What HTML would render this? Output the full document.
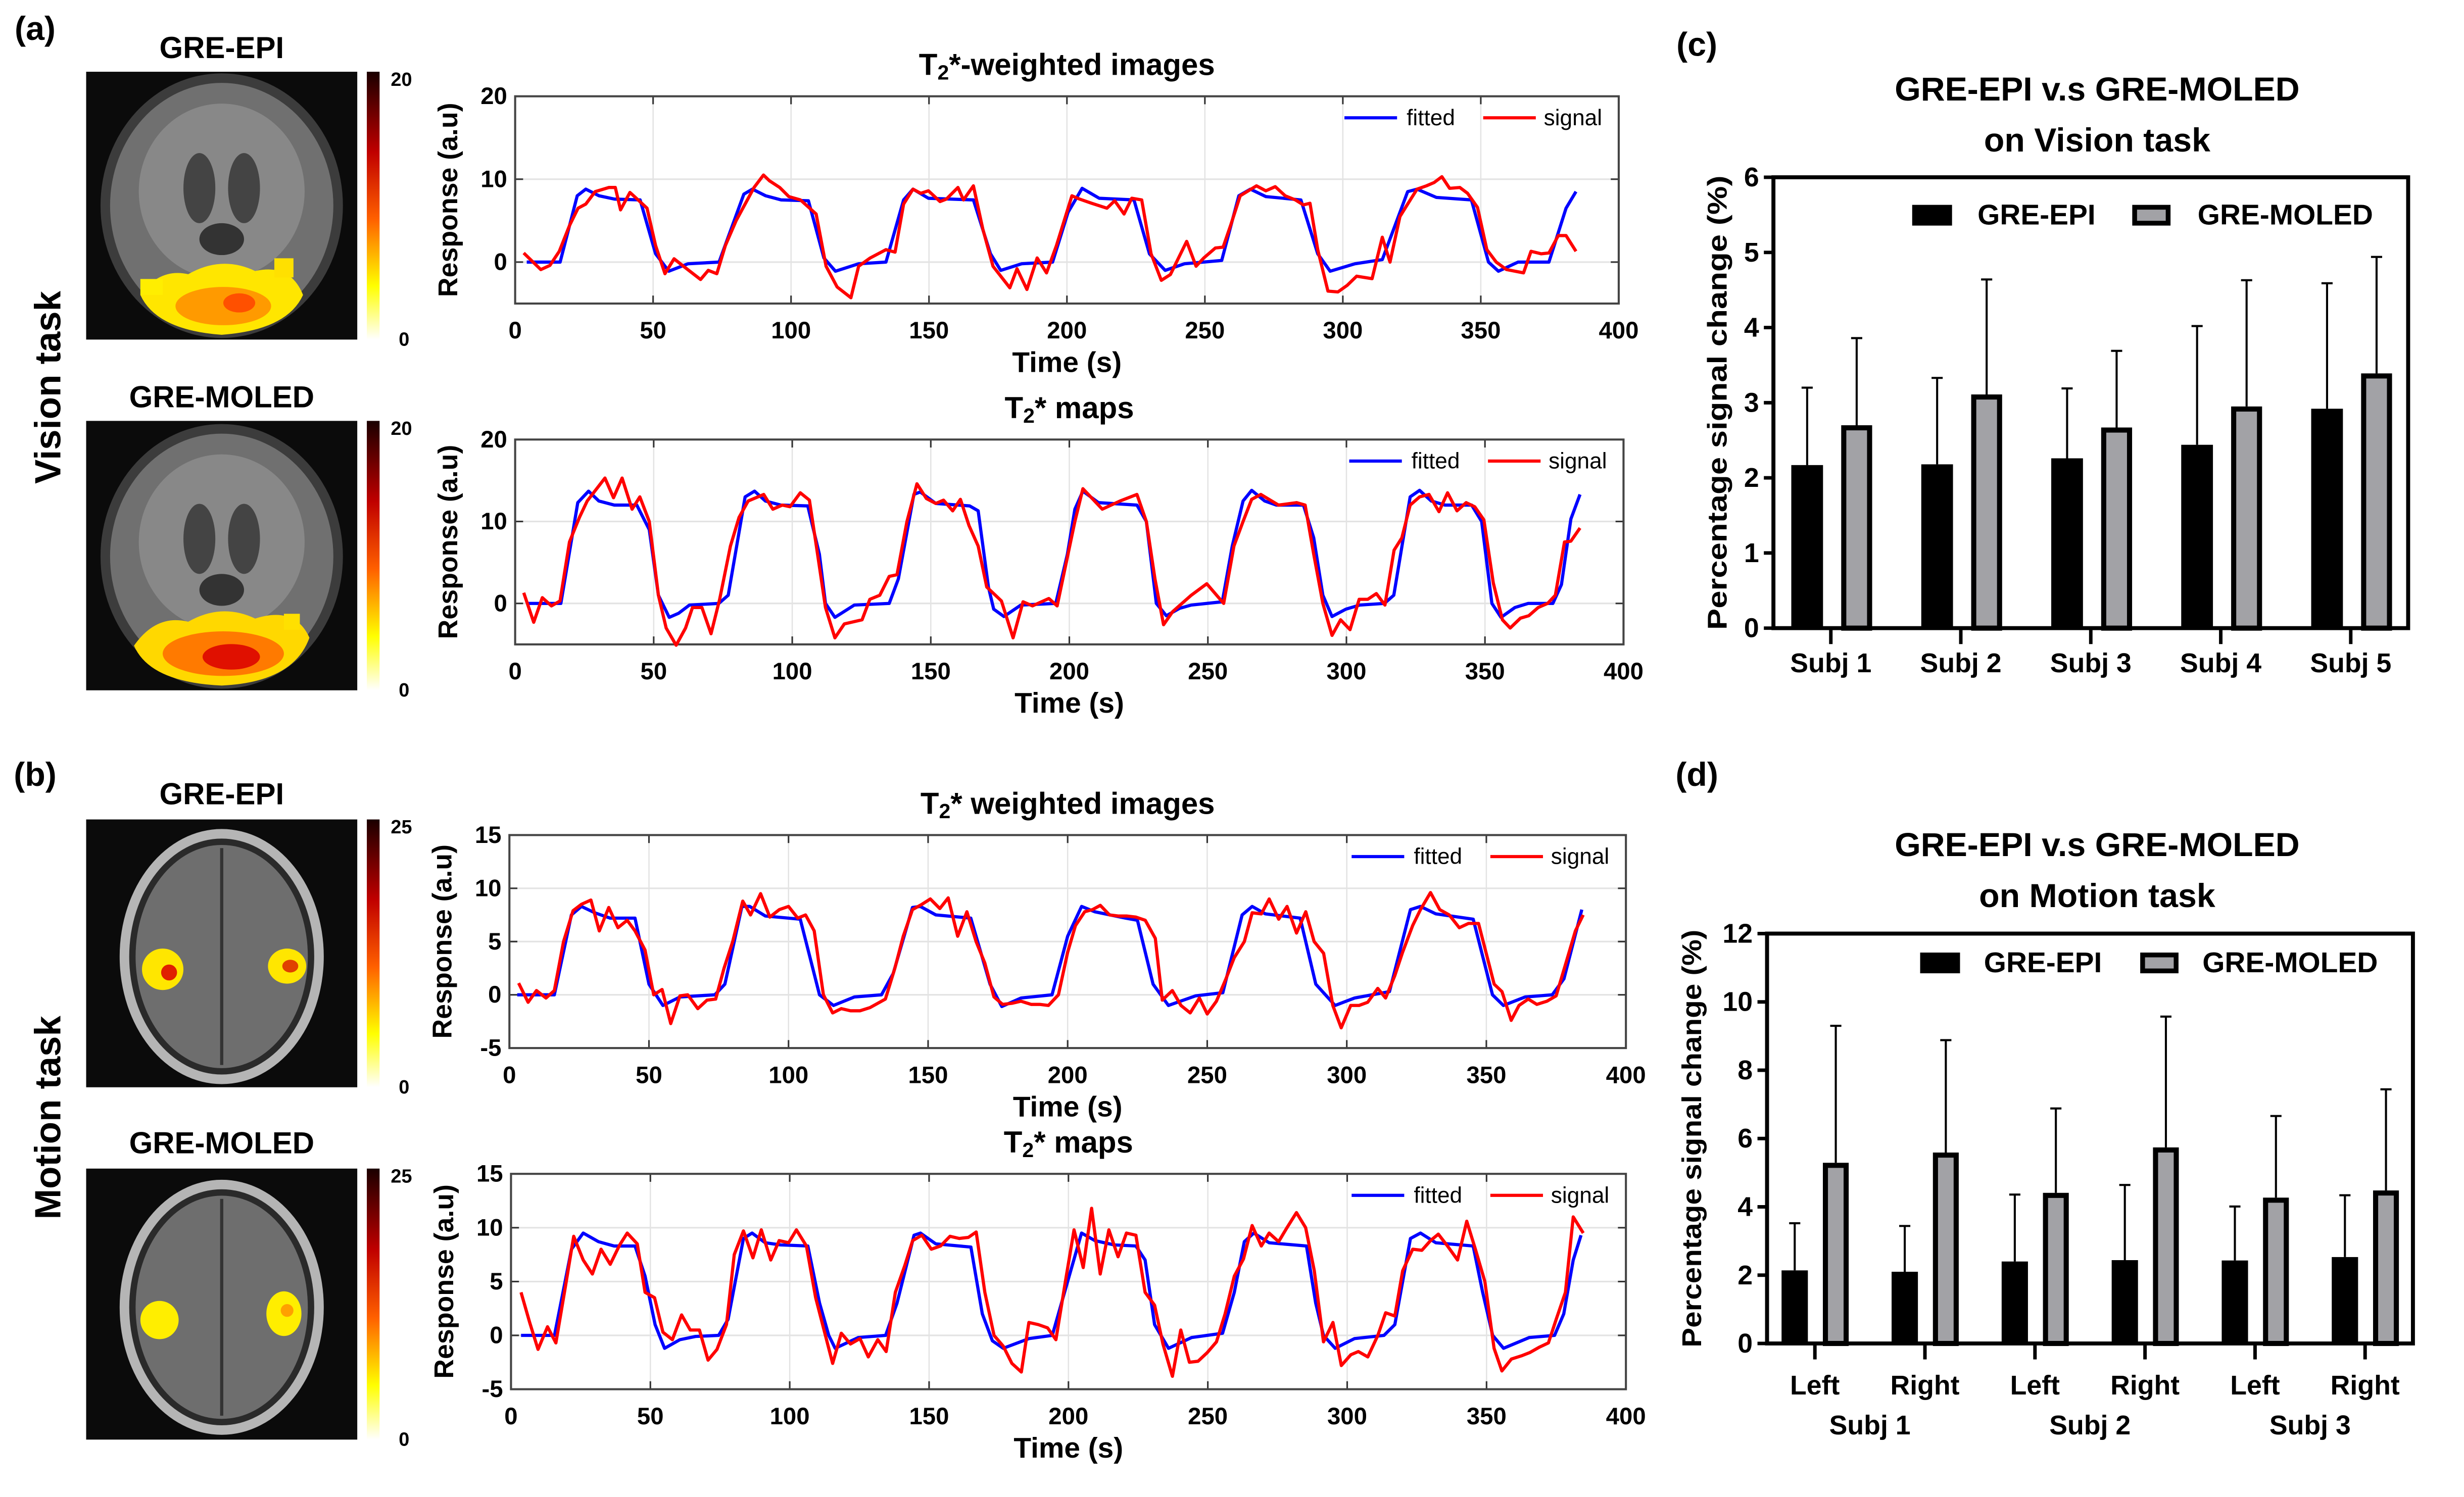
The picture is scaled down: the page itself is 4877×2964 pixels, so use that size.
<!DOCTYPE html>
<html><head><meta charset="utf-8"><title>GRE-EPI vs GRE-MOLED</title>
<style>
html,body{margin:0;padding:0;background:#fff;}
svg{display:block;}
.t{font-family:"Liberation Sans",sans-serif;font-weight:bold;fill:#000;}
.n{font-family:"Liberation Sans Narrow","Liberation Sans",sans-serif;font-weight:bold;fill:#000;}
</style></head>
<body>
<svg id="fig" xmlns="http://www.w3.org/2000/svg" viewBox="0 0 1545 939" width="4877" height="2964">
<defs>
<linearGradient id="cbar" x1="0" y1="0" x2="0" y2="1">
<stop offset="0" stop-color="#1a0000"/><stop offset="0.3" stop-color="#c00000"/><stop offset="0.55" stop-color="#ff6000"/><stop offset="0.8" stop-color="#ffff00"/><stop offset="1" stop-color="#ffffff"/>
</linearGradient>
</defs>
<rect x="0" y="0" width="1545" height="939" fill="#fff"/>

<text class="t" x="22" y="18" font-size="21" text-anchor="middle" dominant-baseline="central">(a)</text>
<text class="t" x="22" y="486" font-size="21" text-anchor="middle" dominant-baseline="central">(b)</text>
<text class="t" x="1064" y="28" font-size="21" text-anchor="middle" dominant-baseline="central">(c)</text>
<text class="t" x="1064" y="486" font-size="21" text-anchor="middle" dominant-baseline="central">(d)</text>

<text class="t" transform="translate(30,243) rotate(-90)" font-size="23" text-anchor="middle" dominant-baseline="central">Vision task</text>
<text class="t" transform="translate(30,701) rotate(-90)" font-size="23" text-anchor="middle" dominant-baseline="central">Motion task</text>

<text class="t" x="139" y="30" font-size="19" text-anchor="middle" dominant-baseline="central">GRE-EPI</text>
<text class="t" x="139" y="249" font-size="19" text-anchor="middle" dominant-baseline="central">GRE-MOLED</text>
<text class="t" x="139" y="498" font-size="19" text-anchor="middle" dominant-baseline="central">GRE-EPI</text>
<text class="t" x="139" y="717" font-size="19" text-anchor="middle" dominant-baseline="central">GRE-MOLED</text>

<g>
<rect x="54" y="45" width="170" height="168" fill="#0b0b0b"/>
<ellipse cx="139" cy="129" rx="76" ry="83" fill="#3c3c3c"/>
<ellipse cx="139" cy="129" rx="70" ry="77" fill="#707070"/>
<ellipse cx="139" cy="120" rx="52" ry="55" fill="#888"/>
<ellipse cx="125" cy="118" rx="10" ry="22" fill="#444"/>
<ellipse cx="153" cy="118" rx="10" ry="22" fill="#444"/>
<ellipse cx="139" cy="150" rx="14" ry="10" fill="#333"/>
<path d="M88 185 Q100 168 118 172 Q139 160 160 170 Q182 165 190 185 Q180 207 139 210 Q98 207 88 185 Z" fill="#ffe600"/>
<ellipse cx="140" cy="192" rx="30" ry="12" fill="#ff9a00"/>
<ellipse cx="150" cy="190" rx="10" ry="6" fill="#ff5000"/>
<rect x="88" y="175" width="14" height="10" fill="#ffee00"/>
<rect x="172" y="162" width="12" height="12" fill="#ffe000"/>
</g>
<rect x="230" y="45" width="8" height="168" fill="url(#cbar)"/>
<text class="t" x="245" y="50" font-size="12" dominant-baseline="central">20</text>
<text class="t" x="250" y="213" font-size="12" dominant-baseline="central">0</text>

<g>
<rect x="54" y="264" width="170" height="169" fill="#0b0b0b"/>
<ellipse cx="139" cy="349" rx="76" ry="83" fill="#3c3c3c"/>
<ellipse cx="139" cy="349" rx="70" ry="77" fill="#707070"/>
<ellipse cx="139" cy="340" rx="52" ry="55" fill="#888"/>
<ellipse cx="125" cy="338" rx="10" ry="22" fill="#444"/>
<ellipse cx="153" cy="338" rx="10" ry="22" fill="#444"/>
<ellipse cx="139" cy="370" rx="14" ry="10" fill="#333"/>
<path d="M84 405 Q98 385 118 390 Q139 378 160 388 Q185 380 194 400 Q184 428 139 430 Q94 428 84 405 Z" fill="#ffd800"/>
<ellipse cx="140" cy="410" rx="38" ry="14" fill="#ff7a00"/>
<ellipse cx="145" cy="412" rx="18" ry="8" fill="#e01000"/>
<rect x="178" y="385" width="10" height="10" fill="#ffe000"/>
</g>
<rect x="230" y="264" width="8" height="169" fill="url(#cbar)"/>
<text class="t" x="245" y="269" font-size="12" dominant-baseline="central">20</text>
<text class="t" x="250" y="433" font-size="12" dominant-baseline="central">0</text>

<g>
<rect x="54" y="514" width="170" height="168" fill="#0b0b0b"/>
<ellipse cx="139" cy="600" rx="64" ry="80" fill="#b5b5b5"/>
<ellipse cx="139" cy="600" rx="58" ry="74" fill="#2a2a2a"/>
<ellipse cx="139" cy="600" rx="54" ry="70" fill="#6e6e6e"/>
<line x1="139" y1="532" x2="139" y2="668" stroke="#333" stroke-width="2"/>
<ellipse cx="102" cy="608" rx="13" ry="13" fill="#ffe600"/>
<ellipse cx="106" cy="610" rx="5" ry="5" fill="#e02000"/>
<ellipse cx="180" cy="606" rx="12" ry="11" fill="#ffe600"/>
<ellipse cx="182" cy="606" rx="5" ry="4" fill="#e04000"/>
</g>
<rect x="230" y="514" width="8" height="168" fill="url(#cbar)"/>
<text class="t" x="245" y="519" font-size="12" dominant-baseline="central">25</text>
<text class="t" x="250" y="682" font-size="12" dominant-baseline="central">0</text>

<g>
<rect x="54" y="733" width="170" height="170" fill="#0b0b0b"/>
<ellipse cx="139" cy="820" rx="64" ry="80" fill="#b5b5b5"/>
<ellipse cx="139" cy="820" rx="58" ry="74" fill="#2a2a2a"/>
<ellipse cx="139" cy="820" rx="54" ry="70" fill="#6e6e6e"/>
<line x1="139" y1="752" x2="139" y2="888" stroke="#333" stroke-width="2"/>
<ellipse cx="100" cy="828" rx="12" ry="12" fill="#ffee00"/>
<ellipse cx="178" cy="824" rx="11" ry="14" fill="#ffee00"/>
<ellipse cx="180" cy="822" rx="4" ry="4" fill="#ffa000"/>
</g>
<rect x="230" y="733" width="8" height="170" fill="url(#cbar)"/>
<text class="t" x="245" y="738" font-size="12" dominant-baseline="central">25</text>
<text class="t" x="250" y="903" font-size="12" dominant-baseline="central">0</text>

<text class="t" x="1315" y="56" font-size="21" text-anchor="middle" dominant-baseline="central">GRE-EPI v.s GRE-MOLED</text>
<text class="t" x="1315" y="88" font-size="21" text-anchor="middle" dominant-baseline="central">on Vision task</text>
<text class="t" x="1315" y="530" font-size="21" text-anchor="middle" dominant-baseline="central">GRE-EPI v.s GRE-MOLED</text>
<text class="t" x="1315" y="562" font-size="21" text-anchor="middle" dominant-baseline="central">on Motion task</text>
</svg>

<script>
const P1_FIT_T = [4.2,16.3,22.5,25.6,30.4,36,45.3,50.9,55.7,62.7,73.9,82.9,86,90.8,96.4,106.3,111.9,116.1,124.5,134.4,140.8,144.2,149.8,166.1,172.3,176,183.6,194.8,200.4,205.5,211.7,224.3,229.9,235.6,242.6,256.1,262.3,266.5,272.1,284.8,290.9,295.4,304.4,314.3,323.5,326.9,333.9,346.6,352.8,356.4,363.5,374.7,380.9,384.5];
const P1_FIT_V = [0,0,8,8.8,8,7.6,7.5,1,-1.1,-0.2,0,8.2,8.8,8,7.5,7.4,0.5,-1.1,-0.2,0,7.5,8.8,7.7,7.5,1,-1,-0.2,0,6,8.9,7.7,7.5,1,-1,-0.2,0.2,8,8.8,7.9,7.5,1,-1.1,-0.2,0.3,8.5,8.8,7.8,7.5,0,-1.1,0,0,6.5,8.5];
const P1_SIG_T = [3.1,9.3,12.6,16,19.7,22.8,25.6,29,34,36.3,38.2,41.6,43.6,47.8,50.9,54.3,57.6,61,67.2,70,73.1,76.2,80.1,86.6,90,92.2,95.9,99.2,103.4,109.1,112.7,116.7,121.7,124.5,128.7,134.4,137.7,140.8,144.2,147,149.8,154,156.3,160.5,162.5,166.1,169.5,173.2,179.3,181.9,185.5,189.2,192.6,196.2,201.8,204.6,208.9,214.5,217.3,220.7,223.5,227.1,230.5,234.2,237.5,243.4,246.8,249.6,253.8,256.6,259.4,262.8,268.7,272.1,275.5,279.1,282.8,285.7,288.1,290.9,294.6,298.2,301.6,305,310.6,314.3,317.1,320.7,323.5,326.9,330.3,333.1,335.9,338.7,342.4,345.2,348.8,352.2,355.6,359.3,365.5,368.2,371.9,374.7,378.1,380.9,384.5];
const P1_SIG_V = [1.1,-0.9,-0.4,1.3,4.4,6.5,7,8.5,9,9,6.3,8.4,7.8,6.5,2,-1.4,0.4,-0.5,-2.1,-1,-1.4,2,5,9,10.5,9.8,9,7.9,7.5,5.8,-0.5,-3,-4.3,-0.5,0.5,1.5,1.2,7,8.8,8.3,8.6,7.3,7.6,9,7.5,9.2,4,-0.5,-3.1,-0.8,-3.3,0.5,-1.3,2,8,7.6,7.1,6.5,7.4,5.8,7.7,7.5,1,-2.2,-1.5,2.5,-0.5,0.5,1.7,1.8,4.5,8,9.2,8.6,9.1,8,7.5,6.9,7.1,1.5,-3.5,-3.6,-2.8,-1.7,-2,3,0,5.5,7,8.8,9.2,9.6,10.3,8.9,9,8.3,6.6,1.5,0,-0.9,-1.3,1.3,1,1.1,3.2,3.2,1.3];

const P2_FIT_T = [4.2,16.5,22.6,26.5,30.2,35.8,43.9,48.4,51.7,55.6,59,62.9,73.5,76.9,83,86.4,90.3,95.9,105.6,109.8,112,115.4,122.4,135,138.3,143.9,146.2,151.8,164,167.1,170.8,172.7,176.4,182.5,195.1,199.3,202,204.9,210.5,224.4,227.8,231.4,235,239.8,244,255.2,258.8,262.7,265.8,270.5,274.7,284.5,288.2,291.5,294.8,299.8,304.8,313.7,317.1,323,326.4,330.6,335.6,345.2,348.8,352.5,355.8,360.8,365.6,374.5,377.6,381,384.3];
const P2_FIT_V = [0,0,12.3,13.7,12.5,12,12,9,1,-1.7,-1.2,-0.2,0,1,13,13.7,12.5,12,11.9,6,0,-1.7,-0.2,0,3,13.3,13.6,12.2,11.9,11.3,2,-0.7,-1.6,-0.2,0,6,11.5,13.7,12.3,12,10,0,-1.5,-0.6,-0.2,0.2,7,12.5,13.8,12.5,12,12,8,1,-1.6,-0.7,-0.2,0,1,13,13.8,12.5,12,12,10,0,-1.7,-0.5,0,0,2.3,10.3,13.3];
const P2_SIG_T = [3.1,6.7,9.8,13.1,16.2,19.6,23.2,26,32.4,35.5,38.6,42.2,45,48.4,51.7,54.5,58.1,61.5,64,67.4,70.7,73.8,77.7,80.8,84.1,89.7,93,96.4,99.2,102.9,106.2,108.7,112,115.4,118.8,125.2,128,131.6,135,137.8,141.4,145,148.4,151.8,154.6,157.9,160.7,163.8,167.1,170.2,175.5,179.7,183.3,186.7,192.6,195.6,202,204.9,211.9,218.3,224.4,227.8,230.9,234,237.3,244,249.6,255.7,259.4,262.7,265.8,269.1,275.5,282,285.1,288.2,291.5,294.8,297.9,301.3,304.6,307.7,310.8,313.9,317.2,320,323,326.4,329.8,333.4,336.5,339.9,343.2,346.3,349.6,353,356.3,359.1,362.8,365.8,369.2,372.6,375.4,378.7,381,384.3];
const P2_SIG_V = [1.3,-2.3,0.7,-0.3,0.3,7.5,10.5,12.5,15.3,12.9,15.3,11.5,13,10,1,-3,-5.1,-3,-0.5,-0.5,-3.7,0.5,7,10.5,12.5,13.3,11.5,12,11.8,13.5,12.6,7,-0.5,-4.2,-2.5,-2,0.5,1,3.3,3.5,10,14.6,12.8,12.2,12.6,11.3,12.7,9.5,7,2,0.3,-4.2,0.2,-0.3,0.6,-0.3,10,14,11.5,12.5,13.3,10,3,-2.6,-1,1,2.4,0,7,10,12.7,13.3,12,12.3,12,6,0,-3.9,-2,-3.2,0.5,0.5,1.2,-0.2,6.5,8,12,13,13.3,11.2,13.5,11.3,12.3,11.8,10.2,2.5,-2,-3,-1.8,-1.5,-0.5,0,1,7.5,7.6,9.2];

const P3_FIT_T = [2.8,16.1,22.2,25.8,30.6,36.1,45,50,55,61.1,73.6,77.2,83.3,86.1,91.7,104.2,111.1,116.1,123.6,133.3,137.5,144.4,147.2,152.8,165.3,172.2,176.4,183.3,194.4,200,205,209.7,220.8,225,230.6,236.1,245.8,255.6,262.5,266.1,270.8,283.3,288.9,295.8,302.8,315.3,322.8,326.4,331.9,345.3,352.2,356.1,363.9,373.6,377.8,384.2];
const P3_FIT_V = [0,0,7.5,8.3,7.7,7.2,7.2,1,-1,-0.2,0,1,8.3,8.3,7.4,7.1,0,-1,-0.2,0,2,8.2,8.3,7.5,7.2,1,-1.1,-0.3,0,5.5,8.3,7.8,7.2,7,1,-1,-0.1,0.2,7.5,8.3,7.6,7.2,1,-1,-0.3,0.3,8,8.3,7.6,7.1,0,-1,-0.2,0,1.5,8];
const P3_SIG_T = [3.3,6.7,9.7,13.1,16.1,19.4,22.8,25.8,29.2,32.2,35.6,38.9,42.2,45,48.6,51.7,54.7,57.8,61.1,63.9,67.5,70.8,73.9,76.9,80,83.6,86.4,90,93.3,96.7,100,103.3,106.1,109.2,112.5,115.8,118.9,122.2,125.6,129.2,134.7,138.1,141.1,144.4,147.8,150.8,154.2,157.2,160.6,163.9,167.2,170.3,173.6,176.7,180,183.3,186.9,190,193.1,196.7,200,202.8,206.1,208.9,211.7,215,218.1,221.1,224.4,227.8,231.4,233.9,237.5,240.6,243.9,247.2,250,253.3,256.7,259.7,263.3,266.1,269.4,272.2,275.6,278.6,282,285.3,288.3,291.7,295,298,301.4,304.4,307.5,311.1,313.9,317.2,320,323.6,326.4,330,333.3,336.7,340.3,343.6,347.2,352.8,355.6,358.9,361.7,365,368.1,371.7,375,378.3,381.9,384.7];
const P3_SIG_V = [1.1,-0.7,0.4,-0.3,0.4,5,7.9,8.5,8.9,6,8.2,6.3,7,6,4.2,0,0.5,-2.7,-0.1,0,-1.3,-0.5,-0.4,2.5,5,8.8,7.5,9.5,7.3,8,8.3,7.2,7.5,6,0,-1.7,-1.3,-1.5,-1.5,-1.2,-0.4,2.5,5.5,8,8.5,9,8.1,9.1,5.5,7.8,5,3,-0.2,-0.9,-0.8,-0.6,-0.9,-0.9,-1,0,4,6.5,7.8,8,8.4,7.5,7.4,7.4,7.3,7,5.3,-0.5,0.4,-1,-1.7,-0.3,-1.8,-0.6,1.5,3.5,5,7.7,7.6,9,7.1,8.3,5.8,7.8,5,3.9,-1,-3.1,-1,-1,-0.7,0.6,-0.3,1.8,4,6.5,8,9.6,8,7.5,6.3,6.7,6.7,1,0.3,-2.4,-1,-0.4,-0.9,-0.6,-0.1,2.8,6,7.5];

const P4_FIT_T = [3.6,15.6,21.7,25.9,31.4,37,44.5,48.1,51.7,55.1,60.6,66.2,74.5,77.9,83.4,86.5,91.2,96.8,106.5,110.7,114,116.3,124.6,134.4,138.5,144.6,146.9,152.4,165,169.1,172.7,176.6,185.8,194.2,199.7,204.7,209.5,216.4,224.2,227.5,230.9,235.9,244.2,255.3,259.5,263.1,266.5,272,285.4,288.7,291.5,295.7,302.6,313.2,317.1,322.7,326.3,331.8,345.2,348.6,352.2,356.1,365.3,374.4,377.7,381.1,383.9];
const P4_FIT_V = [0,0,8,9.5,8.7,8.3,8.3,5.5,1,-1.2,-0.4,-0.1,0,1.5,9,9.5,8.6,8.4,8.3,3,0,-1.2,-0.2,0,3,9.3,9.5,8.5,8.2,2,-0.5,-1.2,-0.3,0,5,9.5,8.8,8.4,8.3,7,1,-1.2,-0.2,0.2,4,8.7,9.5,8.6,8.3,3,0,-1.2,-0.3,0,1,9,9.5,8.6,8.3,4,0,-1.2,-0.2,0,2,7,9.3];
const P4_SIG_T = [3.6,6.7,9.7,13.1,16.1,19.5,22.5,25.9,29.2,32.3,35.6,39,41.7,45.3,48.1,51.5,54.5,57.9,61.2,64.3,67.6,70.7,73.9,77.3,80.1,83.4,86.8,89.8,93.2,96.2,99.6,102.4,106,109.3,112.4,115.4,118.5,121.8,125.2,128.2,131.6,134.6,137.9,141.3,144.1,147.4,150.8,154.1,157.5,160.8,164.1,166.9,170,173.3,176.6,179.7,183.1,185.8,189.2,192.5,195.5,198.9,202,205.3,208.3,211.4,214.5,217.8,220.8,224.2,227.5,230.9,233.9,237.3,240.3,243.4,246.5,249.8,253.1,256.2,259.5,262.8,265.9,269.2,272,275.4,278.4,281.8,285.1,288.2,291.5,294.9,297.9,301.3,304,307.4,311,313.8,317.1,319.9,323.5,326.8,329.9,332.7,336,339.6,342.9,346,349.4,352.7,355.5,358.9,362.5,365.5,368.9,372.2,375,378.3,381.1,384.7];
const P4_SIG_V = [4,1.2,-1.3,0.8,-0.7,4.5,9.2,7,5.7,8,6.6,8.4,9.5,8.5,4,3.5,0.3,-0.4,1.9,0.5,0.5,-2.3,-1.3,1,7.5,9.7,7.2,9.8,7,8.8,8.6,9.8,8.3,3.5,0.4,-2.6,0.2,-0.8,-0.3,-2,-0.4,-1.5,4,6.5,8.8,9.3,8,8.3,9.2,9,9.1,9.6,4,0,-1,-2.6,-3.4,1.2,1,0.7,-0.4,5,9.8,6.3,11.8,5.7,9.8,7.3,9.5,9.3,4,2.8,-0.8,-3.8,0.5,-2.5,-2.4,-1.6,-0.6,2,5.5,7.1,10.2,8.3,9.5,8.7,10,11.4,10,6,-0.6,1.2,-2.8,-1.8,-1.5,-2,0,2.1,1.8,6,8,7.9,8.8,9.4,8.3,7,10.6,8,5,-1.2,-3.3,-2.2,-1.9,-1.6,-1.1,-0.7,1.5,4,11,9.5];

const C_CATEGORIES = ["Subj 1","Subj 2","Subj 3","Subj 4","Subj 5"];
const C_EPI = [2.17,2.18,2.26,2.44,2.92];
const C_EPI_ERR_TOP = [3.20,3.33,3.19,4.02,4.59];
const C_MOLED = [2.70,3.11,2.67,2.95,3.39];
const C_MOLED_ERR_TOP = [3.86,4.64,3.69,4.63,4.94];
const C_Y_TICKS = [0,1,2,3,4,5,6];

const D_CATEGORIES = ["Left","Right","Left","Right","Left","Right"];
const D_GROUPS = ["Subj 1","Subj 2","Subj 3"];
const D_EPI = [2.14,2.10,2.40,2.44,2.43,2.53];
const D_EPI_ERR_TOP = [3.52,3.44,4.36,4.64,4.01,4.34];
const D_MOLED = [5.29,5.59,4.41,5.74,4.27,4.48];
const D_MOLED_ERR_TOP = [9.30,8.88,6.88,9.57,6.66,7.44];
const D_Y_TICKS = [0,2,4,6,8,10,12];

const TS_X_TICKS = [0,50,100,150,200,250,300,350,400];
const TS1_Y_TICKS = [0,10,20];
const TS3_Y_TICKS = [-5,0,5,10,15];

const NS = 'http://www.w3.org/2000/svg';
const svg = document.getElementById('fig');
function mk(tag, attrs, parent) {
  const e = document.createElementNS(NS, tag);
  for (const k in attrs) e.setAttribute(k, attrs[k]);
  (parent || svg).appendChild(e);
  return e;
}

function drawTS(cfg, fitT, fitV, sigT, sigV, yTicks) {
  const g = mk('g', {});
  
  
  const sx = t => cfg.x0 + t / 400 * (cfg.x1 - cfg.x0);
  const sy = v => cfg.yb + (v - cfg.ymin) / (cfg.ymax - cfg.ymin) * (cfg.yt - cfg.yb);
  const bg = mk('rect', {x: cfg.x0, y: cfg.yt, width: cfg.x1 - cfg.x0, height: cfg.yb - cfg.yt, fill: '#fff'}, g);
  
  
  TS_X_TICKS.forEach(t => {
    if (t > 0 && t < 400) {
      const gl = mk('line', {x1: sx(t), x2: sx(t), y1: cfg.yt, y2: cfg.yb, stroke: '#e3e3e3', 'stroke-width': 0.8}, g);
      
      
      const tk1 = mk('line', {x1: sx(t), x2: sx(t), y1: cfg.yb, y2: cfg.yb - 5, stroke: '#333', 'stroke-width': 1}, g);
      
      
      const tk2 = mk('line', {x1: sx(t), x2: sx(t), y1: cfg.yt, y2: cfg.yt + 5, stroke: '#333', 'stroke-width': 1}, g);
      
      
    }
    const lb = mk('text', {x: sx(t), y: cfg.yb + 17, 'font-size': 15, 'text-anchor': 'middle', 'dominant-baseline': 'central', class: 'n'}, g);
    lb.textContent = t;
    
    
  });
  yTicks.forEach(v => {
    if (v > cfg.ymin && v < cfg.ymax) {
      const gl = mk('line', {x1: cfg.x0, x2: cfg.x1, y1: sy(v), y2: sy(v), stroke: '#e3e3e3', 'stroke-width': 1}, g);
      
      
      const tk1 = mk('line', {x1: cfg.x0, x2: cfg.x0 + 5, y1: sy(v), y2: sy(v), stroke: '#333', 'stroke-width': 1}, g);
      
      
      const tk2 = mk('line', {x1: cfg.x1, x2: cfg.x1 - 5, y1: sy(v), y2: sy(v), stroke: '#333', 'stroke-width': 1}, g);
      
      
    }
    const lb = mk('text', {x: cfg.x0 - 5, y: sy(v), 'font-size': 15, 'text-anchor': 'end', 'dominant-baseline': 'central', class: 'n'}, g);
    lb.textContent = v;
    
    
  });
  const fr = mk('rect', {x: cfg.x0, y: cfg.yt, width: cfg.x1 - cfg.x0, height: cfg.yb - cfg.yt, fill: 'none', stroke: '#444', 'stroke-width': 1.3}, g);
  
  

  const nf = Math.min(fitT.length, fitV.length);
  const fp = [];
  for (let i = 0; i < nf; i++) fp.push(sx(fitT[i]).toFixed(2) + ',' + sy(fitV[i]).toFixed(2));
  const fl = mk('polyline', {points: fp.join(' '), fill: 'none', stroke: '#0000ff', 'stroke-width': 2, 'stroke-linejoin': 'round'}, g);
  
  
  const ns = Math.min(sigT.length, sigV.length);
  const spn = [];
  for (let i = 0; i < ns; i++) spn.push(sx(sigT[i]).toFixed(2) + ',' + sy(sigV[i]).toFixed(2));
  const sl = mk('polyline', {points: spn.join(' '), fill: 'none', stroke: '#ff0000', 'stroke-width': 2, 'stroke-linejoin': 'round'}, g);
  
  

  const ly = cfg.yt + 13.5;
  const lx = cfg.x1 - 172;
  const lg = mk('g', {}, g);
  
  
  const l1 = mk('line', {x1: lx, x2: lx + 33, y1: ly, y2: ly, stroke: '#0000ff', 'stroke-width': 2}, lg);
  
  
  const t1 = mk('text', {x: lx + 39, y: ly, 'font-size': 14, 'dominant-baseline': 'central', class: 'n', style: 'font-weight:normal'}, lg);
  t1.textContent = 'fitted';
  
  
  const l2 = mk('line', {x1: lx + 87, x2: lx + 120, y1: ly, y2: ly, stroke: '#ff0000', 'stroke-width': 2}, lg);
  
  
  const t2 = mk('text', {x: lx + 125, y: ly, 'font-size': 14, 'dominant-baseline': 'central', class: 'n', style: 'font-weight:normal'}, lg);
  t2.textContent = 'signal';
  
  

  const xt = mk('text', {x: (cfg.x0 + cfg.x1) / 2, y: cfg.yb + 37, 'font-size': 18, 'text-anchor': 'middle', 'dominant-baseline': 'central', class: 'n'}, g);
  xt.textContent = 'Time (s)';
  
  
  const yt = mk('text', {transform: 'translate(' + (cfg.x0 - 42) + ',' + ((cfg.yt + cfg.yb) / 2) + ') rotate(-90)', 'font-size': 17, 'text-anchor': 'middle', 'dominant-baseline': 'central', class: 'n'}, g);
  yt.textContent = 'Response (a.u)';
  
  
  const tt = mk('text', {x: (cfg.x0 + cfg.x1) / 2, y: cfg.yt - 20, 'font-size': 19, 'text-anchor': 'middle', 'dominant-baseline': 'central', class: 'n'}, g);
  
  
  const a = document.createElementNS(NS, 'tspan'); a.textContent = 'T'; tt.appendChild(a);
  const b = document.createElementNS(NS, 'tspan'); b.textContent = '2'; b.setAttribute('font-size', '13'); b.setAttribute('dy', '5'); tt.appendChild(b);
  const c = document.createElementNS(NS, 'tspan'); c.textContent = cfg.title; c.setAttribute('dy', '-5'); tt.appendChild(c);
}

drawTS({name: 'timeseries-vision-weighted', x0: 323, x1: 1015, yt: 60.4, yb: 190.4, ymin: -5, ymax: 20, title: '*-weighted images'}, P1_FIT_T, P1_FIT_V, P1_SIG_T, P1_SIG_V, TS1_Y_TICKS);
drawTS({name: 'timeseries-vision-maps', x0: 323, x1: 1018, yt: 275.7, yb: 404.2, ymin: -5, ymax: 20, title: '* maps'}, P2_FIT_T, P2_FIT_V, P2_SIG_T, P2_SIG_V, TS1_Y_TICKS);
drawTS({name: 'timeseries-motion-weighted', x0: 319.4, x1: 1019.5, yt: 523.8, yb: 657.4, ymin: -5, ymax: 15, title: '* weighted images'}, P3_FIT_T, P3_FIT_V, P3_SIG_T, P3_SIG_V, TS3_Y_TICKS);
drawTS({name: 'timeseries-motion-maps', x0: 320.4, x1: 1019.5, yt: 736.3, yb: 871.4, ymin: -5, ymax: 15, title: '* maps'}, P4_FIT_T, P4_FIT_V, P4_SIG_T, P4_SIG_V, TS3_Y_TICKS);

function drawBars(cfg, cats, epi, epiErr, moled, moledErr, yTicks) {
  const g = mk('g', {});
  
  
  const sy = v => cfg.y0 + (v - 0) / cfg.ymax * (cfg.ytop - cfg.y0);
  const n = cats.length;
  const step = (cfg.right - cfg.left - 2 * cfg.pad) / (n - 1);
  const cx = i => cfg.left + cfg.pad + i * step;
  for (let i = 0; i < n; i++) {
    const c = cx(i);
    const bx0 = c + cfg.bOff[0], bx1 = c + cfg.bOff[1];
    const bc = (bx0 + bx1) / 2;
    const eb = mk('line', {x1: bc, x2: bc, y1: sy(epi[i]), y2: sy(epiErr[i]), stroke: '#000', 'stroke-width': 1.3}, g);
    
    
    const ec = mk('line', {x1: bc - 3.5, x2: bc + 3.5, y1: sy(epiErr[i]), y2: sy(epiErr[i]), stroke: '#000', 'stroke-width': 1.3}, g);
    
    
    const r1 = mk('rect', {x: bx0, y: sy(epi[i]), width: bx1 - bx0, height: sy(0) - sy(epi[i]), fill: '#000'}, g);
    
    
    const gx0 = c + cfg.gOff[0], gx1 = c + cfg.gOff[1];
    const gc = (gx0 + gx1) / 2;
    const mb = mk('line', {x1: gc, x2: gc, y1: sy(moled[i]), y2: sy(moledErr[i]), stroke: '#000', 'stroke-width': 1.3}, g);
    
    
    const mc = mk('line', {x1: gc - 3.5, x2: gc + 3.5, y1: sy(moledErr[i]), y2: sy(moledErr[i]), stroke: '#000', 'stroke-width': 1.3}, g);
    
    
    const r2 = mk('rect', {x: gx0 + 1.6, y: sy(moled[i]) + 1.6, width: gx1 - gx0 - 3.2, height: Math.max(0, sy(0) - sy(moled[i]) - 1.6), fill: '#a2a2a6', stroke: '#000', 'stroke-width': 3.2}, g);
    
    
    const tk = mk('line', {x1: c, x2: c, y1: sy(0), y2: sy(0) + 10, stroke: '#000', 'stroke-width': 2.2}, g);
    
    
    const lb = mk('text', {x: c, y: cfg.catY, 'font-size': 17, 'text-anchor': 'middle', 'dominant-baseline': 'central', class: 't'}, g);
    lb.textContent = cats[i];
    
    
  }
  yTicks.forEach(v => {
    const tk = mk('line', {x1: cfg.left - 6, x2: cfg.left, y1: sy(v), y2: sy(v), stroke: '#000', 'stroke-width': 2.2}, g);
    
    
    const lb = mk('text', {x: cfg.left - 9, y: sy(v), 'font-size': 17, 'text-anchor': 'end', 'dominant-baseline': 'central', class: 't'}, g);
    lb.textContent = v;
    
    
  });
  const fr = mk('rect', {x: cfg.left, y: sy(cfg.ymax), width: cfg.right - cfg.left, height: sy(0) - sy(cfg.ymax), fill: 'none', stroke: '#000', 'stroke-width': 2.5}, g);
  
  
  const yt = mk('text', {transform: 'translate(' + cfg.yTitleX + ',' + ((sy(0) + sy(cfg.ymax)) / 2) + ') rotate(-90)', 'font-size': 17, 'text-anchor': 'middle', 'dominant-baseline': 'central', textLength: cfg.yTitleLen, lengthAdjust: 'spacingAndGlyphs', class: 't'}, g);
  yt.textContent = 'Percentage signal change (%)';
  
  
  const lg = mk('g', {}, g);
  
  
  const s1 = mk('rect', {x: cfg.leg[0], y: cfg.legY - 6.5, width: 25, height: 13, fill: '#000'}, lg);
  
  
  const t1 = mk('text', {x: cfg.leg[1], y: cfg.legY, 'font-size': 18, 'dominant-baseline': 'central', class: 't'}, lg);
  t1.textContent = 'GRE-EPI';
  
  
  const s2 = mk('rect', {x: cfg.leg[2] + 1.5, y: cfg.legY - 5, width: 21, height: 10, fill: '#a2a2a6', stroke: '#000', 'stroke-width': 3}, lg);
  
  
  const t2 = mk('text', {x: cfg.leg[3], y: cfg.legY, 'font-size': 18, 'dominant-baseline': 'central', class: 't'}, lg);
  t2.textContent = 'GRE-MOLED';
  
  
  return {cx: cx};
}

drawBars({name: 'bar-chart-vision', left: 1112, right: 1510, pad: 36, y0: 394, ytop: 111.2, ymax: 6,
  bOff: [-24.8, -4.9], gOff: [6.5, 25.9], catY: 416, yTitleX: 1077, yTitleLen: 285, leg: [1199, 1240, 1337, 1378], legY: 135},
  C_CATEGORIES, C_EPI, C_EPI_ERR_TOP, C_MOLED, C_MOLED_ERR_TOP, C_Y_TICKS);

const dAx = drawBars({name: 'bar-chart-motion', left: 1108, right: 1513, pad: 30, y0: 842.7, ytop: 585.6, ymax: 12,
  bOff: [-20.9, -4.4], gOff: [5, 21.2], catY: 869, yTitleX: 1061, yTitleLen: 262, leg: [1204, 1244, 1342, 1381], legY: 604},
  D_CATEGORIES, D_EPI, D_EPI_ERR_TOP, D_MOLED, D_MOLED_ERR_TOP, D_Y_TICKS);

D_GROUPS.forEach((name, j) => {
  const x = (dAx.cx(2 * j) + dAx.cx(2 * j + 1)) / 2;
  const t = mk('text', {x: x, y: 894, 'font-size': 17, 'text-anchor': 'middle', 'dominant-baseline': 'central', class: 'n'});
  t.textContent = name;
  
  
});
</script>
</body></html>
